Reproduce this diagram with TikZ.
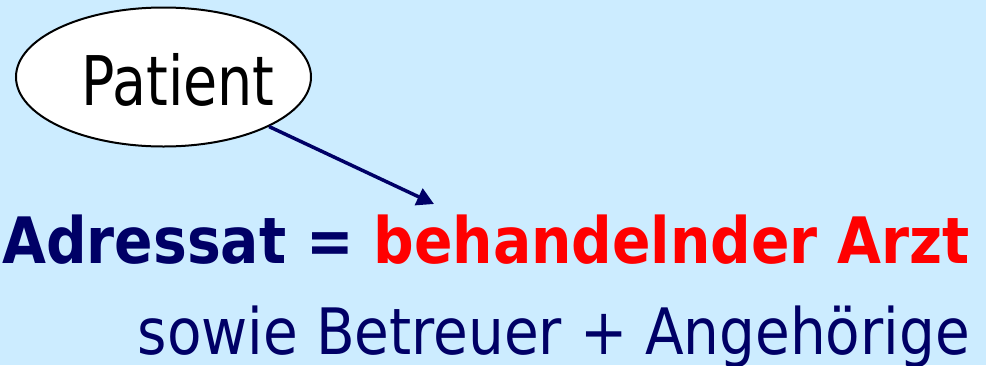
\documentclass[tikz,border=0pt]{standalone}
\usepackage{fontspec}
\setmainfont{DejaVu Sans Condensed}
\newfontfamily\patfont[FakeStretch=0.9]{DejaVu Sans Condensed}
\newfontfamily\txtfont[FakeStretch=0.98]{DejaVu Sans Condensed}
\newfontfamily\boldtxtfont[FakeStretch=0.986]{DejaVu Sans Condensed Bold}
\usetikzlibrary{arrows.meta,shapes.geometric}
\definecolor{bg}{HTML}{CCECFF}
\definecolor{navy}{HTML}{000066}
\definecolor{tred}{HTML}{FF0000}
\begin{document}
\begin{tikzpicture}[x=1pt,y=-1pt]
\fill[bg] (0,0) rectangle (986,365);
\useasboundingbox (0,0) rectangle (986,365);
\node[ellipse,draw=black,line width=2pt,fill=white,minimum width=295pt,minimum height=139pt,inner sep=0pt] (pat) at (163.5,77) {};
\node[anchor=base,inner sep=0pt,font=\patfont\fontsize{68.5}{80}\selectfont] (patlbl) at (178,105) {Patient};
\coordinate (tip) at (434,204);
\draw[navy,line width=3.5pt,-{Triangle[length=17pt,width=18pt]}] (pat) -- (tip);
\node[anchor=base west,inner sep=0pt,font=\boldtxtfont\fontsize{64}{75}\selectfont] (l1) at (2,263) {\textcolor{navy}{Adressat =} \textcolor{tred}{behandelnder Arzt}};
\node[anchor=base east,inner sep=0pt,font=\txtfont\fontsize{64}{75}\selectfont,text=navy] (l2) at (970,354) {sowie Betreuer + Angehörige};
\end{tikzpicture}
\end{document}
